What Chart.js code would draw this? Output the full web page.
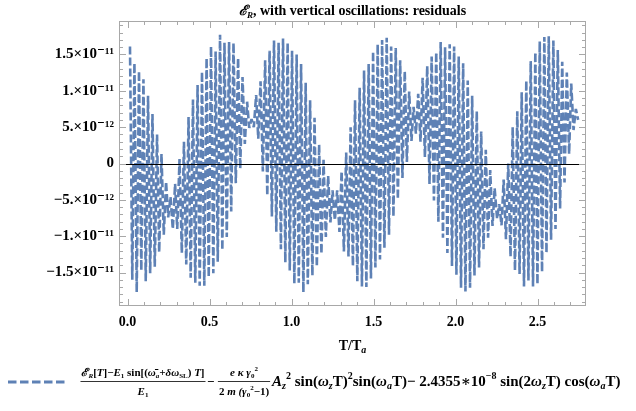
<!DOCTYPE html>
<html><head><meta charset="utf-8">
<script src="https://cdn.jsdelivr.net/npm/chart.js@4/dist/chart.umd.min.js"></script>
<style>html,body{margin:0;padding:0;background:#fff}</style>
</head><body>
<canvas id="c" width="636" height="411"></canvas>
<script>
// T/T_a positions of the successive extrema (max, min, max, min, ...)
const tValues = [
 0.015,0.029, 0.042,0.056, 0.070,0.084, 0.097,0.111, 0.125,0.138,
 0.152,0.166, 0.180,0.193, 0.207,0.221, 0.235,0.248, 0.262,0.276,
 0.290,0.303, 0.317,0.331, 0.344,0.358, 0.372,0.385, 0.399,0.413,
 0.427,0.440, 0.454,0.468, 0.482,0.495, 0.509,0.523, 0.537,0.550,
 0.564,0.578, 0.591,0.605, 0.619,0.632, 0.646,0.660, 0.674,0.687,
 0.701,0.715, 0.729,0.742, 0.756,0.770, 0.784,0.797, 0.811,0.825,
 0.839,0.852, 0.866,0.880, 0.893,0.907, 0.921,0.935, 0.948,0.962,
 0.976,0.989, 1.003,1.017, 1.031,1.044, 1.058,1.072, 1.086,1.099,
 1.113,1.127, 1.140,1.154, 1.168,1.182, 1.195,1.209, 1.223,1.237,
 1.250,1.264, 1.278,1.292, 1.305,1.319, 1.333,1.347, 1.360,1.374,
 1.387,1.401, 1.415,1.429, 1.442,1.456, 1.470,1.484, 1.497,1.511,
 1.525,1.539, 1.552,1.566, 1.580,1.594, 1.607,1.621, 1.635,1.648,
 1.662,1.676, 1.690,1.703, 1.717,1.731, 1.744,1.758, 1.772,1.786,
 1.799,1.813, 1.827,1.841, 1.854,1.868, 1.882,1.895, 1.909,1.923,
 1.936,1.950, 1.964,1.978, 1.991,2.005, 2.019,2.033, 2.046,2.060,
 2.074,2.088, 2.101,2.115, 2.129,2.143, 2.156,2.170, 2.184,2.198,
 2.211,2.225, 2.238,2.253, 2.266,2.280, 2.293,2.307, 2.321,2.335,
 2.348,2.362, 2.376,2.390, 2.403,2.417, 2.431,2.444, 2.458,2.472,
 2.486,2.499, 2.513,2.527, 2.541,2.554, 2.568,2.582, 2.596,2.609,
 2.623,2.637, 2.650,2.664, 2.678,2.692, 2.705,2.719, 2.733,2.747
];
// residual values at those extrema, in units of 1e-11
const residualE11 = [
 1.61,-1.60, 1.38,-1.77, 1.27,-1.47, 1.16,-1.62, 0.93,-1.51,
 0.68,-1.42, 0.40,-1.22, 0.13,-0.98, -0.25,-0.74, -0.46,-0.90,
 -0.28,-0.90, 0.06,-1.23, 0.30,-1.39, 0.64,-1.57, 0.88,-1.64,
 1.08,-1.68, 1.26,-1.68, 1.45,-1.56, 1.61,-1.51, 1.54,-1.35,
 1.77,-1.19, 1.66,-1.01, 1.67,-0.66, 1.66,-0.27, 1.45,-0.07,
 1.19,0.27, 0.85,0.49, 0.61,0.50, 0.94,0.34, 1.13,-0.11,
 1.42,-0.44, 1.55,-0.73, 1.69,-0.94, 1.66,-1.18, 1.72,-1.36,
 1.66,-1.47, 1.55,-1.65, 1.50,-1.64, 1.37,-1.77, 1.11,-1.66,
 0.87,-1.54, 0.63,-1.42, 0.26,-1.24, 0.05,-1.01, -0.17,-0.81,
 -0.37,-0.78, -0.37,-0.94, -0.11,-1.21, 0.15,-1.28, 0.50,-1.41,
 0.87,-1.62, 1.04,-1.69, 1.28,-1.70, 1.37,-1.58, 1.54,-1.43,
 1.64,-1.32, 1.70,-1.16, 1.73,-0.98, 1.61,-0.73, 1.59,-0.49,
 1.42,-0.20, 1.27,0.02, 0.99,0.31, 0.78,0.41, 0.96,0.30,
 1.18,0.09, 1.34,-0.28, 1.47,-0.51, 1.53,-0.80, 1.67,-1.02,
 1.60,-1.23, 1.64,-1.41, 1.61,-1.53, 1.47,-1.71, 1.38,-1.76,
 1.14,-1.71, 0.93,-1.54, 0.72,-1.43, 0.44,-1.18, 0.19,-1.02,
 -0.09,-0.86, -0.34,-0.76, -0.56,-0.85, -0.22,-1.04, 0.00,-1.28,
 0.50,-1.47, 0.72,-1.52, 0.98,-1.69, 1.14,-1.61, 1.41,-1.69,
 1.53,-1.66, 1.68,-1.49, 1.74,-1.23, 1.75,-1.05, 1.69,-0.90,
 1.56,-0.62, 1.40,-0.26, 1.25,0.13, 1.10,0.46, 0.75,0.60
];
const xTickValues = [0, 0.5, 1, 1.5, 2, 2.5];
const xTickLabels = ["0.0", "0.5", "1.0", "1.5", "2.0", "2.5"];
const yTickValues = [-1.5e-11, -1e-11, -5e-12, 0, 5e-12, 1e-11, 1.5e-11];
const yTickLabels = ["\u22121.5\u00d710\u207b\u00b9\u00b9", "\u22121.\u00d710\u207b\u00b9\u00b9", "\u22125.\u00d710\u207b\u00b9\u00b2", "0",
                     "5.\u00d710\u207b\u00b9\u00b2", "1.\u00d710\u207b\u00b9\u00b9", "1.5\u00d710\u207b\u00b9\u00b9"];

const SERIF = '"Liberation Serif", "Times New Roman", "DejaVu Serif", serif';
const B = n => `bold ${n}px ${SERIF}`;
const BI = n => `italic bold ${n}px ${SERIF}`;
const BLUE = '#5E81B5';
const DASH = [8, 3];

function rich(ctx, x, y, segs, align) {
  let w = 0;
  for (const s of segs) { ctx.font = s[1]; w += ctx.measureText(s[0]).width; }
  let cx = align === 'center' ? x - w / 2 : (align === 'right' ? x - w : x);
  ctx.textAlign = 'left'; ctx.textBaseline = 'alphabetic';
  for (const s of segs) { ctx.font = s[1]; ctx.fillText(s[0], cx, y + (s[2] || 0)); cx += ctx.measureText(s[0]).width; }
  return w;
}

const decor = {
  id: 'decor',
  afterDatasetsDraw(chart) {
    const ctx = chart.ctx, a = chart.chartArea, xs = chart.scales.x, ys = chart.scales.y;
    ctx.save();
    const y0 = Math.round(ys.getPixelForValue(0)) + 0.5;
    ctx.strokeStyle = '#000'; ctx.lineWidth = 1;
    ctx.beginPath(); ctx.moveTo(a.left, y0); ctx.lineTo(a.right, y0); ctx.stroke();
    ctx.strokeStyle = '#a8a8a8';
    ctx.strokeRect(a.left + 0.5, a.top + 0.5, a.right - a.left - 1, a.bottom - a.top - 1);
    ctx.beginPath();
    for (let i = Math.ceil(xs.min * 10); i <= Math.floor(xs.max * 10); i++) {
      const px = Math.round(xs.getPixelForValue(i / 10)) + 0.5;
      const L = (i % 5 === 0) ? 7 : 4;
      ctx.moveTo(px, a.bottom); ctx.lineTo(px, a.bottom - L);
      ctx.moveTo(px, a.top); ctx.lineTo(px, a.top + L);
    }
    for (let i = Math.ceil(ys.min / 1e-12 - 1e-6); i <= Math.floor(ys.max / 1e-12 + 1e-6); i++) {
      const py = Math.round(ys.getPixelForValue(i * 1e-12)) + 0.5;
      const L = (i % 5 === 0) ? 7 : 4;
      ctx.moveTo(a.left, py); ctx.lineTo(a.left + L, py);
      ctx.moveTo(a.right, py); ctx.lineTo(a.right - L, py);
    }
    ctx.stroke();
    ctx.restore();
  },
  afterDraw(chart) {
    const ctx = chart.ctx, a = chart.chartArea;
    ctx.save();
    ctx.fillStyle = '#000';
    const cx = (a.left + a.right) / 2;
    rich(ctx, cx, 15, [["\u2130", BI(14)], ["R", BI(9), 3], [", with vertical oscillations: residuals", B(14)]], 'center');
    rich(ctx, cx, 350, [["T/T", B(14)], ["a", BI(10), 3]], 'center');
    ctx.strokeStyle = BLUE; ctx.lineWidth = 3; ctx.setLineDash([8.5, 3.5]);
    ctx.beginPath(); ctx.moveTo(8, 382); ctx.lineTo(65, 382); ctx.stroke();
    ctx.setLineDash([]);
    const n1 = [["\u2130", BI(11)], ["R", BI(7), 2], ["[", B(11)], ["T", BI(11)], ["]\u2212", B(11)], ["E", BI(11)], ["1", B(7), 2],
      [" sin[(", B(11)], ["\u03c9\u0304", BI(11)], ["a", BI(7), 2], ["+\u03b4\u03c9", BI(11)], ["SL", B(7), 2], [") ", B(11)], ["T", BI(11)], ["]", B(11)]];
    const fx1 = 143;
    const w1 = rich(ctx, fx1, 376, n1, 'center');
    rich(ctx, fx1, 395, [["E", BI(11)], ["1", B(7), 2]], 'center');
    ctx.strokeStyle = '#000'; ctx.lineWidth = 0.8;
    ctx.beginPath(); ctx.moveTo(fx1 - w1 / 2 - 1, 381.5); ctx.lineTo(fx1 + w1 / 2 + 1, 381.5); ctx.stroke();
    rich(ctx, 207, 386, [["\u2212", B(13)]], 'left');
    const fx2 = 244;
    rich(ctx, fx2, 376, [["e \u03ba \u03b3", BI(11)], ["0", B(7), 2], ["2", B(7), -5]], 'center');
    const w2 = rich(ctx, fx2, 395, [["2 ", B(11)], ["m", BI(11)], [" (\u03b3", BI(11)], ["0", B(7), 2], ["2", B(7), -5], ["\u22121)", B(11)]], 'center');
    ctx.beginPath(); ctx.moveTo(fx2 - w2 / 2 - 1, 381.5); ctx.lineTo(fx2 + w2 / 2 + 1, 381.5); ctx.stroke();
    rich(ctx, 272, 386, [["A", BI(15)], ["z", BI(10), 3], ["2", B(10), -7], [" sin(", B(15)], ["\u03c9", BI(15)], ["z", BI(10), 3],
      ["T)", B(15)], ["2", B(10), -7], ["sin(", B(15)], ["\u03c9", BI(15)], ["a", BI(10), 3], ["T)\u2212 2.4355\u221710", B(15)], ["\u22128", B(10), -7],
      [" sin(2", B(15)], ["\u03c9", BI(15)], ["z", BI(10), 3], ["T) cos(", B(15)], ["\u03c9", BI(15)], ["a", BI(10), 3], ["T)", B(15)]], 'left');
    ctx.restore();
  }
};

new Chart(document.getElementById('c').getContext('2d'), {
  type: 'line',
  data: {
    datasets: [{
      data: tValues.map((t, i) => ({ x: t, y: residualE11[i] * 1e-11 })),
      borderColor: BLUE, borderWidth: 2.6, borderDash: DASH, borderCapStyle: 'butt', borderJoinStyle: 'bevel',
      pointRadius: 0, fill: false, tension: 0
    }]
  },
  options: {
    animation: false, responsive: false, devicePixelRatio: 1,
    layout: { padding: { left: 0, right: 50, top: 21, bottom: 0 } },
    plugins: { legend: { display: false }, tooltip: { enabled: false }, title: { display: false } },
    scales: {
      x: {
        type: 'linear', min: -0.052, max: 2.795,
        grid: { display: false, drawTicks: false }, border: { display: false },
        afterBuildTicks: s => { s.ticks = xTickValues.map(v => ({ value: v })); },
        afterFit: s => { s.height = 105; },
        ticks: { callback: (v, i) => xTickLabels[i], font: { family: SERIF, weight: 'bold', size: 14 }, color: '#000', padding: 8, maxRotation: 0, autoSkip: false }
      },
      y: {
        type: 'linear', min: -1.96e-11, max: 1.96e-11,
        grid: { display: false, drawTicks: false }, border: { display: false },
        afterBuildTicks: s => { s.ticks = yTickValues.map(v => ({ value: v })); },
        afterFit: s => { s.width = 119; },
        ticks: { callback: (v, i) => yTickLabels[i], font: { family: SERIF, weight: 'bold', size: 15 }, color: '#000', padding: 5, autoSkip: false }
      }
    }
  },
  plugins: [decor]
});
</script>
</body></html>
